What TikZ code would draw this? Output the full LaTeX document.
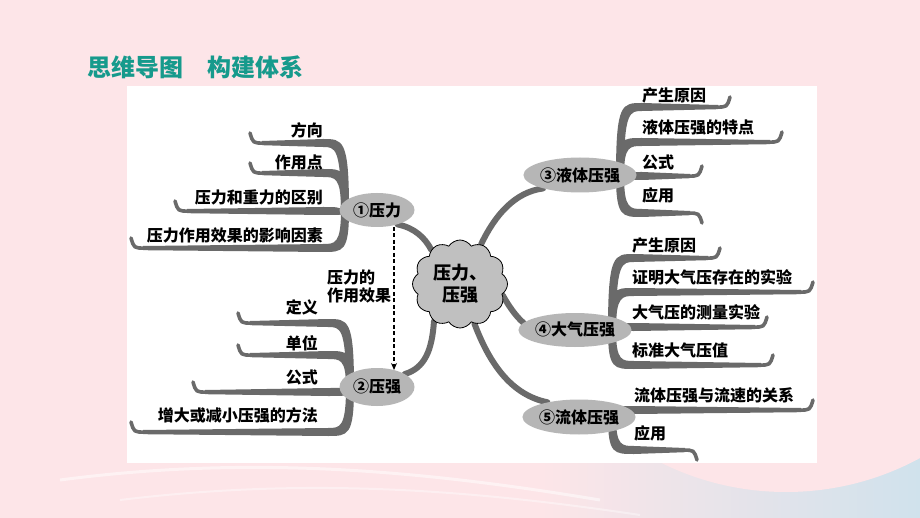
\documentclass[tikz,border=0pt]{standalone}
\usepackage{fontspec}
\newfontfamily\cjk{Noto Sans CJK SC}
\usetikzlibrary{shapes.geometric,shapes.symbols,arrows.meta}
\pgfdeclarelayer{bglayer}
\pgfdeclarelayer{midlayer}
\pgfsetlayers{bglayer,midlayer,main}
\definecolor{bgpink}{RGB}{253,229,232}
\definecolor{bgblue}{RGB}{208,226,236}
\definecolor{titleteal}{RGB}{22,154,140}
\definecolor{barc}{RGB}{106,106,106}
\definecolor{ellc}{RGB}{182,182,182}
\definecolor{cloudc}{RGB}{192,192,192}
\tikzset{
  leaf/.style={inner sep=0pt, font=\cjk\bfseries\fontsize{16}{18}\selectfont},
  ell/.style={ellipse, fill=ellc, inner sep=0pt, font=\cjk\bfseries\fontsize{16}{18}\selectfont},
  branch/.style={barc, line width=6pt, line cap=round},
}
% left leaf: stem x, stem y, bar y, left end x, d (+1 up / -1 down), curl (-1 up / +1 down)
\newcommand\leafL[6]{%
  \fill[barc] ({#1+#5*4},#2) .. controls ({#1+#5*4},{#3-4}) and ({#1+#5*4-6},{#3-4}) .. ({#1-22},{#3-4})
     -- ({#4+12},{#3-2}) -- ({#4+12},{#3+2.2}) -- ({#1-22},{#3+4})
     .. controls ({#1-#5*4-6},{#3+4}) and ({#1-#5*4},{#3+4}) .. ({#1-#5*4},#2) -- cycle;
  \draw[barc, line width=3.6pt, line cap=round] ({#4+14},{#3+0.1}) .. controls ({#4+3},{#3+0.1}) .. ({#4},{#3+#6*10});
}
\newcommand\leafR[6]{%
  \fill[barc] ({#1-#5*4},#2) .. controls ({#1-#5*4},{#3-4}) and ({#1-#5*4+6},{#3-4}) .. ({#1+22},{#3-4})
     -- ({#4-12},{#3-2}) -- ({#4-12},{#3+2.2}) -- ({#1+22},{#3+4})
     .. controls ({#1+#5*4+6},{#3+4}) and ({#1+#5*4},{#3+4}) .. ({#1+#5*4},#2) -- cycle;
  \draw[barc, line width=3.6pt, line cap=round] ({#4-14},{#3+0.1}) .. controls ({#4-3},{#3+0.1}) .. ({#4},{#3+#6*10});
}
\begin{document}
\begin{tikzpicture}[x=1pt,y=-1pt]
\useasboundingbox (0,0) rectangle (920,518);
\begin{pgfonlayer}{bglayer}
% background
\fill[bgpink] (0,0) rectangle (920,518);
\fill[left color=bgpink, right color=bgblue] (540,400) rectangle (920,518);
\fill[bgpink] (786,211) circle (281);
\draw[white, opacity=0.5, line width=3pt] (60,480) .. controls (250,455) and (420,470) .. (600,500);
\draw[white, opacity=0.4, line width=2pt] (120,500) .. controls (300,478) and (460,488) .. (640,515);
% panel
\fill[white] (127,86) rectangle (817,463);
\end{pgfonlayer}

% title
\node[anchor=west, inner sep=0pt, text=titleteal, font=\cjk\bfseries\fontsize{24}{26}\selectfont] (title) at (87,67) {思维导图　构建体系};

% central cloud and ellipses
\node[cloud, cloud puffs=12, cloud puff arc=115, aspect=1.05, draw=black, line width=0.8pt, fill=cloudc,
      minimum width=95pt, minimum height=88pt, inner sep=0pt, align=center,
      font=\cjk\bfseries\fontsize{18}{22}\selectfont] (c) at (460,284) {压力、\\压强};
\node[ell, minimum width=75pt, minimum height=34pt] (p1) at (377,210) {①压力};
\node[ell, minimum width=75pt, minimum height=38pt] (p2) at (377,387) {②压强};
\node[ell, minimum width=94pt, minimum height=35pt] (p3) at (580,175) {③液体压强};
\node[ell, minimum width=95pt, minimum height=34pt] (p4) at (575,330) {④大气压强};
\node[ell, minimum width=92pt, minimum height=35pt] (p5) at (579,417) {⑤流体压强};

\begin{pgfonlayer}{midlayer}
% leaves of 1
\leafL{345}{210}{143}{250}{1}{-1}
\leafL{345}{210}{173}{250}{1}{-1}
\leafL{345}{210}{211}{175}{-1}{-1}
\leafL{345}{210}{248}{131}{-1}{-1}
% leaves of 2
\leafL{350}{387}{323}{238}{1}{-1}
\leafL{350}{387}{355}{238}{1}{-1}
\leafL{350}{387}{392}{193}{-1}{-1}
\leafL{350}{387}{432}{131}{-1}{-1}
% leaves of 3
\leafR{620}{175}{107}{730}{1}{-1}
\leafR{620}{175}{142}{782}{1}{-1}
\leafR{620}{175}{176}{702}{-1}{-1}
\leafR{620}{175}{213}{702}{-1}{1}
% leaves of 4
\leafR{612}{330}{258}{720}{1}{-1}
\leafR{612}{330}{292}{813}{1}{-1}
\leafR{612}{330}{327}{767}{1}{-1}
\leafR{612}{330}{365}{773}{-1}{-1}
% leaves of 5
\leafR{612}{417}{410}{813}{1}{-1}
\leafR{612}{417}{450}{697}{-1}{1}
% branches from cloud
\draw[branch] (c.130) .. controls (425,238) and (415,228) .. (p1.-35);
\draw[branch] (c.-125) .. controls (432,350) and (425,368) .. (p2.25);
\draw[branch] (c.62) .. controls (495,215) and (515,192) .. (p3.200);
\draw[branch] (c.-15) .. controls (512,312) and (520,320) .. (p4.172);
\draw[branch] (c.-70) .. controls (490,365) and (512,395) .. (p5.155);
\end{pgfonlayer}

% dashed arrow
\coordinate (da) at (394,227);
\coordinate (db) at (394,370);
\draw[black, line width=1.4pt, dash pattern=on 4pt off 2.5pt, -{Stealth[length=7pt,width=6pt]}] (da) -- (db);
\node[leaf, anchor=north west, align=left] (eff) at (327,270) {压力的\\作用效果};

% texts of 1
\node[leaf, anchor=east] (t11) at (323,130) {方向};
\node[leaf, anchor=east] (t12) at (323,162) {作用点};
\node[leaf, anchor=east] (t13) at (323,197) {压力和重力的区别};
\node[leaf, anchor=east] (t14) at (323,235) {压力作用效果的影响因素};
% texts of 2
\node[leaf, anchor=east] (t21) at (318,307) {定义};
\node[leaf, anchor=east] (t22) at (318,343) {单位};
\node[leaf, anchor=east] (t23) at (318,377) {公式};
\node[leaf, anchor=east] (t24) at (318,415) {增大或减小压强的方法};
% texts of 3
\node[leaf, anchor=west] (t31) at (642,95) {产生原因};
\node[leaf, anchor=west] (t32) at (642,127) {液体压强的特点};
\node[leaf, anchor=west] (t33) at (642,162) {公式};
\node[leaf, anchor=west] (t34) at (642,195) {应用};
% texts of 4
\node[leaf, anchor=west] (t41) at (632,245) {产生原因};
\node[leaf, anchor=west] (t42) at (632,277) {证明大气压存在的实验};
\node[leaf, anchor=west] (t43) at (632,312) {大气压的测量实验};
\node[leaf, anchor=west] (t44) at (632,350) {标准大气压值};
% texts of 5
\node[leaf, anchor=west] (t51) at (634,395) {流体压强与流速的关系};
\node[leaf, anchor=west] (t52) at (634,433) {应用};
\end{tikzpicture}
\end{document}
